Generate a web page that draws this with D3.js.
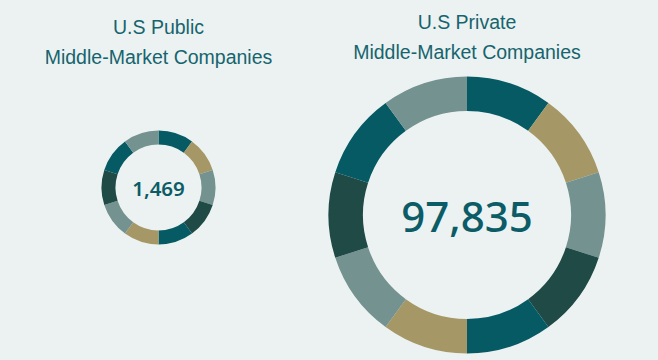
<!DOCTYPE html>
<html>
<head>
<meta charset="utf-8">
<script src="https://cdn.jsdelivr.net/npm/d3@7"></script>
<style>
  html, body { margin: 0; padding: 0; background: #ecf2f2; }
  svg { display: block; }
</style>
</head>
<body>
<svg id="chart" width="658" height="360"></svg>
<script>
// Data
const charts = ["public", "private"];
const titleLines = [["U.S Public", "Middle-Market Companies"], ["U.S Private", "Middle-Market Companies"]];
const totals = [1469, 97835];
const segmentValues = [1, 1, 1, 1, 1, 1, 1, 1, 1, 1];
const segmentColors = ["#055a64", "#a69866", "#74928f", "#1f4a45", "#055a64", "#a69866", "#74928f", "#1f4a45", "#055a64", "#74928f"];

// Layout
const layout = [
  { cx: 158.5, cy: 187.5, outer: 57, inner: 43, font: 20.5, weight: 600, titleY: 34 },
  { cx: 467, cy: 215, outer: 138.5, inner: 104, font: 42, weight: 500, titleY: 29 }
];

const svg = d3.select("#chart");
const pie = d3.pie().sort(null).value(d => d);
const fmt = d3.format(",");

charts.forEach((c, i) => {
  const L = layout[i];
  const g = svg.append("g").attr("transform", `translate(${L.cx},${L.cy})`);
  const arc = d3.arc().innerRadius(L.inner).outerRadius(L.outer);
  g.selectAll("path")
    .data(pie(segmentValues))
    .join("path")
    .attr("d", arc)
    .attr("fill", (d, j) => segmentColors[j]);
  g.append("text")
    .attr("text-anchor", "middle")
    .attr("dominant-baseline", "central")
    .attr("font-family", "'Noto Sans', 'Open Sans', sans-serif")
    .attr("font-weight", L.weight)
    .attr("font-size", L.font)
    .attr("fill", "#0b5c66")
    .text(fmt(totals[i]));

  const t = svg.append("text")
    .attr("text-anchor", "middle")
    .attr("font-family", "'Liberation Sans', Arial, sans-serif")
    .attr("font-size", 19.5)
    .attr("fill", "#16646e");
  titleLines[i].forEach((line, k) => {
    t.append("tspan").attr("x", L.cx).attr("y", L.titleY + k * 29.5).text(line);
  });
});
</script>
</body>
</html>
